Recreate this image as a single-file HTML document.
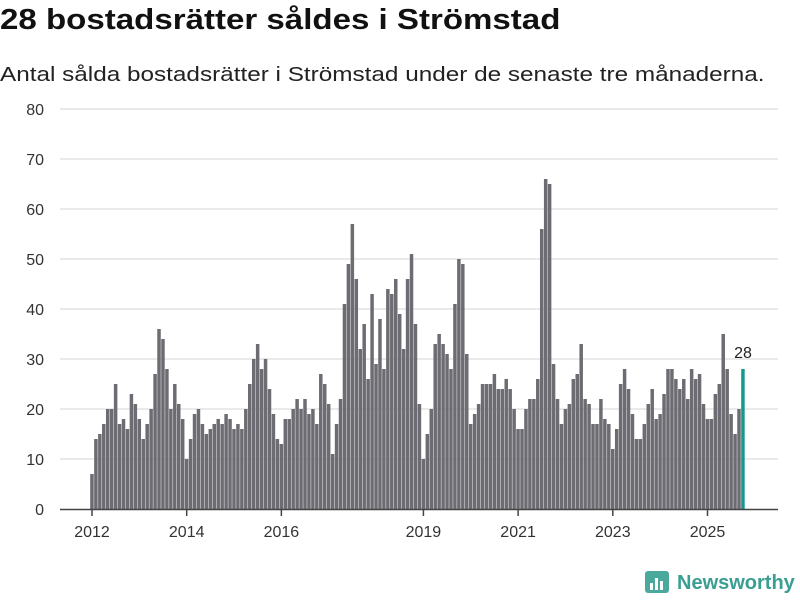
<!DOCTYPE html>
<html><head><meta charset="utf-8"><style>
body{margin:0;background:#fff;font-family:"Liberation Sans","DejaVu Sans",sans-serif;}
#wrap{position:relative;width:800px;height:600px;overflow:hidden}
h1{position:absolute;left:0;top:4px;margin:0;font-size:29px;font-weight:bold;color:#111;white-space:nowrap;transform:scaleX(1.14);transform-origin:left top}
p.sub{position:absolute;left:0;top:64px;margin:0;font-size:20px;color:#222;white-space:nowrap;transform:scaleX(1.215);transform-origin:left top}
</style></head><body><div id="wrap">
<h1>28 bostadsrätter såldes i Strömstad</h1>
<p class="sub">Antal sålda bostadsrätter i Strömstad under de senaste tre månaderna.</p>
<svg id="c" width="800" height="600" style="position:absolute;left:0;top:0"></svg>
</div>
<script>
const values=[7,14,15,17,20,20,25,17,18,16,23,21,
18,14,17,20,27,36,34,28,20,25,21,18,
10,14,19,20,17,15,16,17,18,17,19,18,
16,17,16,20,25,30,33,28,30,24,19,14,
13,18,18,20,22,20,22,19,20,17,27,25,
21,11,17,22,41,49,57,46,32,37,26,43,
29,38,28,44,43,46,39,32,46,51,37,21,
10,15,20,33,35,33,31,28,41,50,49,31,
17,19,21,25,25,25,27,24,24,26,24,20,
16,16,20,22,22,26,56,66,65,29,22,17,
20,21,26,27,33,22,21,17,17,22,18,17,
12,16,25,28,24,19,14,14,17,21,24,18,
19,23,28,28,26,24,26,22,28,26,27,21,
18,18,23,25,35,28,19,15,20,28];
const yTicks=[0,10,20,30,40,50,60,70,80];
const xTickYears=[2012,2014,2016,2019,2021,2023,2025];
const startYear=2012;
const NS="http://www.w3.org/2000/svg";
const svg=document.getElementById('c');
const x0=92,step=(743-92)/165;
const xs=i=>x0+i*step;
const ys=v=>509-v*5;
function mk(t,a){const e=document.createElementNS(NS,t);for(const k in a)e.setAttribute(k,a[k]);svg.appendChild(e);return e;}
yTicks.forEach(v=>{
 if(v>0){const g=mk('line',{x1:60,x2:778,y1:ys(v),y2:ys(v),stroke:'#e3e3e3','stroke-width':1.5});
 
 }
 const t=mk('text',{x:44,y:ys(v)+6,'text-anchor':'end','font-size':16,fill:'#333','font-family':'Liberation Sans, sans-serif'});
 t.textContent=v;
 
 
});
values.forEach((v,i)=>{
 const last=i===values.length-1;
 const r=mk('rect',{x:xs(i)-1.8,y:ys(v),width:3.5,height:v*5,fill:last?'#14998e':'#6d6c72'});
 
 
 if(last){const t=mk('text',{x:xs(i),y:ys(v)-11,'text-anchor':'middle','font-size':16,fill:'#222','font-family':'Liberation Sans, sans-serif'});t.textContent=v;
 
 }
});
const ax=mk('line',{x1:60,x2:778,y1:509.5,y2:509.5,stroke:'#444','stroke-width':1.5});


xTickYears.forEach(yr=>{
 const x=xs((yr-startYear)*12);
 const l=mk('line',{x1:x,x2:x,y1:509,y2:516,stroke:'#444','stroke-width':1.5});
 
 
 const t=mk('text',{x:x,y:537,'text-anchor':'middle','font-size':16,fill:'#333','font-family':'Liberation Sans, sans-serif'});
 t.textContent=yr;
 
 
});
const lg=mk('g',{});


const ic=document.createElementNS(NS,'rect');ic.setAttribute('x',645);ic.setAttribute('y',571);ic.setAttribute('width',24);ic.setAttribute('height',22);ic.setAttribute('rx',3);ic.setAttribute('fill','#4aa89c');lg.appendChild(ic);
[[650,583,3,7],[655,578,3,12],[660,581,3,9]].forEach(b=>{const r=document.createElementNS(NS,'rect');r.setAttribute('x',b[0]);r.setAttribute('y',b[1]);r.setAttribute('width',b[2]);r.setAttribute('height',b[3]);r.setAttribute('fill','#fff');lg.appendChild(r);});
const lt=document.createElementNS(NS,'text');lt.setAttribute('x',677);lt.setAttribute('y',589);lt.setAttribute('font-size',20);lt.setAttribute('font-weight','bold');lt.setAttribute('fill','#3a9e92');lt.setAttribute('font-family','Liberation Sans, sans-serif');lt.textContent='Newsworthy';lg.appendChild(lt);
</script></body></html>
